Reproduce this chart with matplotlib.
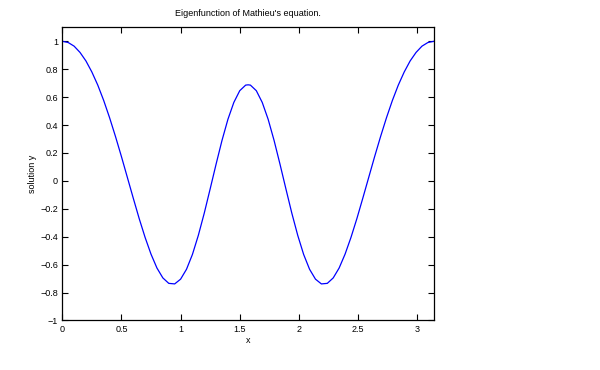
import matplotlib
matplotlib.use("Agg")
import matplotlib.pyplot as plt

# eigenfunction values
x_vals = [0.00, 0.05, 0.10, 0.15, 0.20, 0.25, 0.30, 0.35, 0.40, 0.45,
          0.50, 0.55, 0.60, 0.65, 0.70, 0.75, 0.80, 0.85, 0.90, 0.95,
          1.00, 1.05, 1.10, 1.15, 1.20, 1.25, 1.30, 1.35, 1.40, 1.45,
          1.50, 1.55, 1.5708,
          1.59, 1.64, 1.69, 1.74, 1.79, 1.84, 1.89, 1.94, 1.99, 2.04,
          2.09, 2.14, 2.19, 2.24, 2.29, 2.34, 2.39, 2.44, 2.49, 2.54,
          2.59, 2.64, 2.69, 2.74, 2.79, 2.84, 2.89, 2.94, 2.99, 3.04,
          3.09, 3.1416]
y_vals = [1.000, 0.991, 0.965, 0.920, 0.859, 0.780, 0.686, 0.576, 0.452, 0.317,
          0.174, 0.025, -0.124, -0.270, -0.405, -0.525, -0.624, -0.695, -0.734, -0.738,
          -0.704, -0.633, -0.527, -0.390, -0.231, -0.057, 0.120, 0.290, 0.441, 0.562,
          0.646, 0.686, 0.688,
          0.686, 0.646, 0.562, 0.441, 0.290, 0.120, -0.057, -0.231, -0.390, -0.527,
          -0.633, -0.704, -0.738, -0.734, -0.695, -0.624, -0.525, -0.405, -0.270, -0.124,
          0.025, 0.174, 0.317, 0.452, 0.576, 0.686, 0.780, 0.859, 0.920, 0.965,
          0.991, 1.000]

xticks = [0, 0.5, 1, 1.5, 2, 2.5, 3]
yticks = [-1, -0.8, -0.6, -0.4, -0.2, 0, 0.2, 0.4, 0.6, 0.8, 1]

plt.rcParams['font.family'] = ['Liberation Sans', 'DejaVu Sans']

fig = plt.figure(figsize=(6, 3.7), dpi=100)
ax = fig.add_axes([0.1038, 0.1338, 0.6195, 0.7924])
ax.plot(x_vals, y_vals, color='#0000ff', linewidth=0.9)

ax.set_xlim(0, 3.14159)
ax.set_ylim(-1, 1.1)
ax.set_xticks(xticks)
ax.set_xticklabels(['0', '0.5', '1', '1.5', '2', '2.5', '3'])
ax.set_yticks(yticks)
ax.set_yticklabels(['\u22121', '\u22120.8', '\u22120.6', '\u22120.4', '\u22120.2', '0',
                    '0.2', '0.4', '0.6', '0.8', '1'])
ax.tick_params(direction='in', length=4, width=0.8, labelsize=6.5,
               top=True, right=True, pad=3)
for s in ax.spines.values():
    s.set_linewidth(0.9)

ax.set_title("Eigenfunction of Mathieu's equation.", fontsize=6.5, pad=8)
ax.set_xlabel("x", fontsize=6.5, labelpad=2)
ax.set_ylabel("solution y", fontsize=6.5, labelpad=2)

fig.savefig("out.png", dpi=100)
